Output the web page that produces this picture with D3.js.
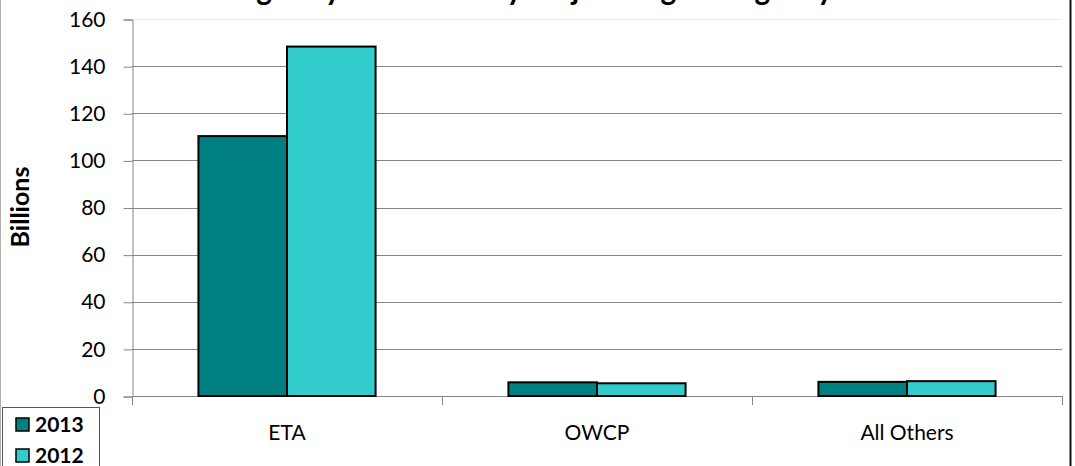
<!DOCTYPE html>
<html>
<head>
<meta charset="utf-8">
<script src="https://cdn.jsdelivr.net/npm/d3@7"></script>
<style>
  html, body { margin: 0; padding: 0; background: #fff; }
  svg { display: block; font-family: Lato, "Open Sans", sans-serif; }
</style>
</head>
<body>
<svg id="chart" width="1075" height="466"></svg>
<script>
// Budgetary resources (billions of dollars) by agency, two fiscal years
const categories = ["ETA", "OWCP", "All Others"];
const seriesNames = ["2013", "2012"];
const values2013 = [110.3, 5.8, 6.0];
const values2012 = [148.3, 5.4, 6.3];
const yTicks = [0, 20, 40, 60, 80, 100, 120, 140, 160];
const titleText = "Budgetary Resources by Major Program Agency";
const yTitle = "Billions";
const colors = ["#008080", "#33CCCC"];

const seriesValues = [values2013, values2012];

const svg = d3.select("#chart");
const W = 1075, H = 466;
const plot = { left: 132, right: 1062, top: 19, bottom: 396 };

svg.append("rect").attr("width", W).attr("height", H).attr("fill", "#fff");

// chart frame edges
svg.append("line").attr("x1", 0.5).attr("x2", 0.5).attr("y1", 0).attr("y2", H)
  .attr("stroke", "#b0b0b0").attr("stroke-width", 1);
svg.append("line").attr("x1", 1070.5).attr("x2", 1070.5).attr("y1", 0).attr("y2", H)
  .attr("stroke", "#111").attr("stroke-width", 2);

// scales
const y = d3.scaleLinear().domain([0, 160]).range([plot.bottom, plot.top]);
const x0 = d3.scaleBand().domain(categories).range([plot.left, plot.right])
  .paddingInner(0).paddingOuter(0);
const x1 = d3.scaleBand().domain(seriesNames).range([0, x0.bandwidth()])
  .paddingInner(0).paddingOuter(0.75);

// horizontal gridlines
svg.append("g").selectAll("line").data(yTicks.filter(t => t > 0)).join("line")
  .attr("x1", plot.left).attr("x2", plot.right)
  .attr("y1", d => Math.round(y(d)) + 0.5).attr("y2", d => Math.round(y(d)) + 0.5)
  .attr("stroke", d => d === 160 ? "#ececec" : "#868686")
  .attr("stroke-width", 1);

// y axis
const yAxis = svg.append("g").attr("transform", `translate(${plot.left + 0.5},0.5)`)
  .call(d3.axisLeft(y).tickValues(yTicks).tickSize(9).tickPadding(18).tickFormat(d3.format("d")));
yAxis.select(".domain").attr("stroke", "#868686");
yAxis.selectAll(".tick line").attr("stroke", "#868686");
yAxis.selectAll(".tick text").attr("font-size", 21).attr("fill", "#000")
  .attr("font-family", "Lato, sans-serif");

// x axis baseline and category boundary ticks
svg.append("line").attr("x1", plot.left).attr("x2", plot.right)
  .attr("y1", plot.bottom + 0.5).attr("y2", plot.bottom + 0.5)
  .attr("stroke", "#868686");
const bounds = categories.map(c => x0(c)).concat([x0(categories[categories.length - 1]) + x0.bandwidth()]);
svg.append("g").selectAll("line").data(bounds).join("line")
  .attr("x1", d => Math.round(d) + 0.5).attr("x2", d => Math.round(d) + 0.5)
  .attr("y1", plot.bottom).attr("y2", plot.bottom + 9)
  .attr("stroke", "#868686");
svg.append("g").selectAll("text").data(categories).join("text")
  .attr("x", d => x0(d) + x0.bandwidth() / 2)
  .attr("y", 440)
  .attr("text-anchor", "middle")
  .attr("font-size", 21)
  .attr("fill", "#000")
  .text(d => d);

// bars
const groups = svg.append("g").selectAll("g").data(categories).join("g")
  .attr("transform", d => `translate(${x0(d)},0)`);
groups.selectAll("rect")
  .data((c, i) => seriesNames.map((s, k) => ({ s, k, v: seriesValues[k][i] })))
  .join("rect")
  .attr("x", d => x1(d.s))
  .attr("width", x1.bandwidth())
  .attr("y", d => y(d.v))
  .attr("height", d => y(0) - y(d.v))
  .attr("fill", d => colors[d.k])
  .attr("stroke", "#000")
  .attr("stroke-width", 2);

// title (sits at the top edge)
svg.append("text")
  .attr("x", 518).attr("y", 0)
  .attr("text-anchor", "middle")
  .attr("font-size", 32).attr("font-weight", "bold")
  .attr("textLength", 630).attr("lengthAdjust", "spacingAndGlyphs")
  .text(titleText);

// y axis title
svg.append("text")
  .attr("transform", "translate(29,207) rotate(-90)")
  .attr("text-anchor", "middle")
  .attr("font-size", 25).attr("font-weight", "bold")
  .text(yTitle);

// legend
const legend = svg.append("g");
legend.append("rect")
  .attr("x", 2.5).attr("y", 407.5).attr("width", 97).attr("height", 70)
  .attr("fill", "#fff").attr("stroke", "#555").attr("stroke-width", 1);
const items = legend.selectAll("g").data(seriesNames).join("g")
  .attr("transform", (d, i) => `translate(0,${418 + i * 31})`);
items.append("rect")
  .attr("x", 16).attr("y", 0).attr("width", 13).attr("height", 13)
  .attr("fill", (d, i) => colors[i]).attr("stroke", "#000").attr("stroke-width", 1.5);
items.append("text")
  .attr("x", 35).attr("y", 13.5)
  .attr("font-size", 21).attr("font-weight", "bold")
  .text(d => d);
</script>
</body>
</html>
